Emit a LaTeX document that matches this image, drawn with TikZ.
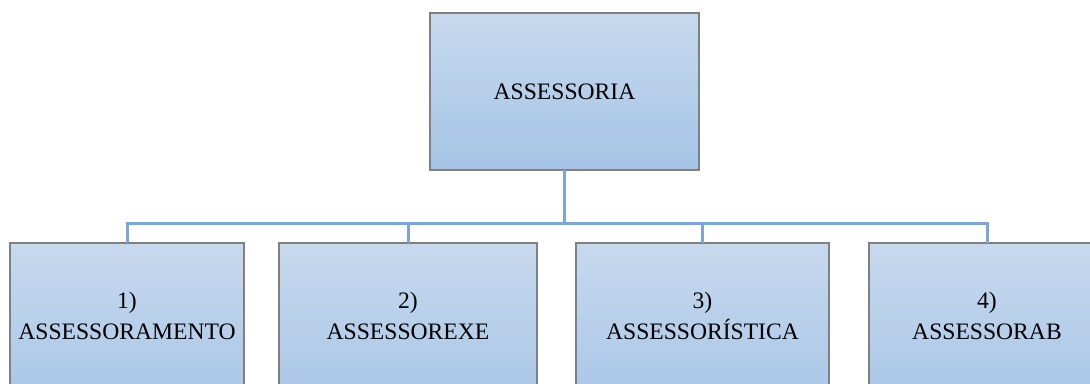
\documentclass[tikz,border=0pt]{standalone}
\usepackage{fontspec}
\setmainfont{Liberation Serif}
\definecolor{boxtop}{RGB}{199,217,238}
\definecolor{boxbot}{RGB}{165,196,229}
\definecolor{linkc}{RGB}{122,166,216}
\definecolor{edgec}{RGB}{128,128,128}
\newcommand\orgfont{\fontsize{23.6}{28}\selectfont}
\begin{document}
\begin{tikzpicture}[x=1pt,y=-1pt,
  orgbox/.style={draw=edgec, line width=1.2pt, top color=boxtop, bottom color=boxbot,
    inner sep=0pt, outer sep=0pt},
  link/.style={draw=linkc, line width=3pt},
  lbl/.style={font=\orgfont, anchor=base, inner sep=0pt}]
\useasboundingbox (0,0) rectangle (1090,383);
\clip (0,0) rectangle (1090,383);
\coordinate (bus) at (564.5,223);
% boxes
\node[orgbox, minimum width=269pt, minimum height=157pt, font=\orgfont] (top) at (564.5,91.5) {ASSESSORIA};
\node[orgbox, minimum width=234pt, minimum height=180pt] (b1) at (127,333) {};
\node[orgbox, minimum width=258pt, minimum height=180pt] (b2) at (408,333) {};
\node[orgbox, minimum width=253pt, minimum height=180pt] (b3) at (702.5,333) {};
\node[orgbox, minimum width=236pt, minimum height=180pt] (b4) at (987,333) {};
% connectors
\draw[link] (top.south) -- (bus);
\draw[link] (b1.north) |- (bus);
\draw[link] (b2.north) |- (bus);
\draw[link] (b3.north) |- (bus);
\draw[link] (b4.north) |- (bus);
% labels
\node[lbl] (t1a) at (127,308) {1)};
\node[lbl] (t1b) at (127,339.5) {ASSESSORAMENTO};
\node[lbl] (t2a) at (408,308) {2)};
\node[lbl] (t2b) at (408,339.5) {ASSESSOREXE};
\node[lbl] (t3a) at (702.5,308) {3)};
\node[lbl] (t3b) at (702.5,339.5) {ASSESSORÍSTICA};
\node[lbl] (t4a) at (987,308) {4)};
\node[lbl] (t4b) at (987,339.5) {ASSESSORAB};
\end{tikzpicture}
\end{document}
